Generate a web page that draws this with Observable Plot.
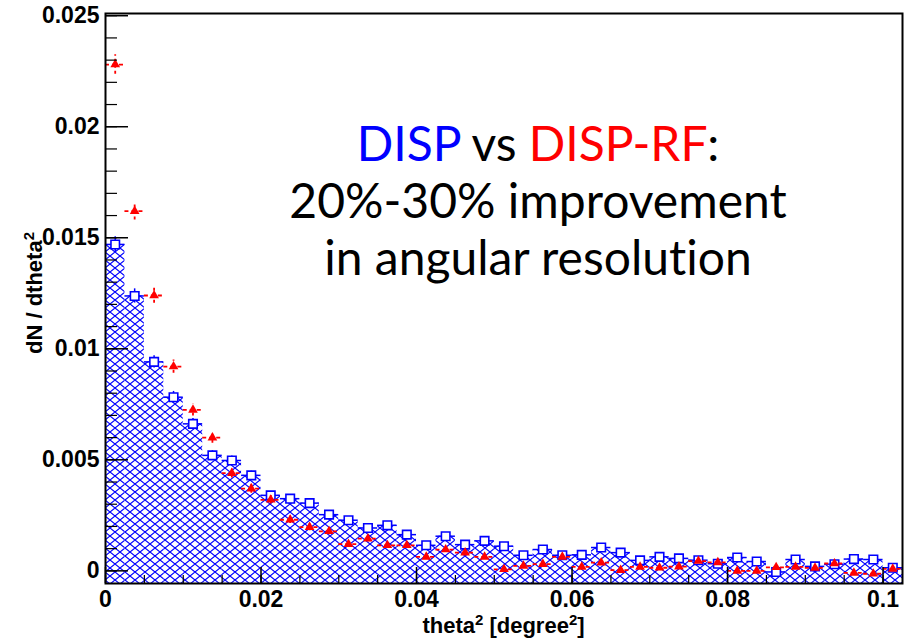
<!DOCTYPE html>
<html><head><meta charset="utf-8">
<script src="https://cdn.jsdelivr.net/npm/d3@7"></script>
<script src="https://cdn.jsdelivr.net/npm/@observablehq/plot@0.6"></script>
<style>body{margin:0;background:#fff}#chart{width:905px;height:641px}</style>
</head><body><div id="chart"></div>
<script>
// theta^2 histogram, 41 bins of 0.0025 deg^2
const binWidth = 0.0025;
// DISP (blue, hatched histogram + open squares)
const dispValues = [0.0147, 0.01238, 0.00941, 0.00782, 0.00662, 0.0052, 0.00497, 0.0043, 0.0034, 0.00325,
  0.00305, 0.00253, 0.00228, 0.00193, 0.00205, 0.00163, 0.00115, 0.00156, 0.00118, 0.00135,
  0.00111, 0.0007, 0.00096, 0.0007, 0.00072, 0.00105, 0.00082, 0.00047, 0.00063, 0.00056,
  0.00048, 0.00032, 0.0006, 0.00042, -0.00005, 0.00051, 0.0002, 0.0003, 0.00053, 0.00051, 0.00014];
const dispErrors = [0.00035, 0.00032, 0.00028, 0.00026, 0.00024, 0.00021, 0.0002, 0.00019, 0.00017, 0.00016,
  0.00016, 0.00014, 0.00014, 0.00013, 0.00013, 0.00012, 0.0001, 0.00011, 0.0001, 0.0001,
  0.0001, 0.00008, 0.00009, 0.00008, 0.00008, 0.00009, 0.00008, 0.00007, 0.00008, 0.00007,
  0.00007, 0.00006, 0.00007, 0.00006, 0.00005, 0.00007, 0.00005, 0.00006, 0.00007, 0.00007, 0.00005];
// DISP-RF (red triangles)
const rfValues = [0.0228, 0.0162, 0.0124, 0.0092, 0.00725, 0.006, 0.0044, 0.0037, 0.0032, 0.0023,
  0.00197, 0.00178, 0.0012, 0.00145, 0.00115, 0.00115, 0.00063, 0.00096, 0.00082, 0.00063,
  0.00007, 0.00022, 0.0003, 0.00063, 0.00018, 0.00037, 0.00003, 0.00018, 0.00014, 0.00019,
  0.00044, 0.00038, 0.0, 0.0, 0.00016, 0.00018, 0.00013, 0.00033, -0.00009, -0.00013, 0.00009];
const rfErrors = [0.00044, 0.0004, 0.00035, 0.0003, 0.00028, 0.00025, 0.00022, 0.0002, 0.00019, 0.00017,
  0.00016, 0.00015, 0.00013, 0.00014, 0.00012, 0.00012, 0.0001, 0.00011, 0.0001, 0.0001,
  0.00006, 0.00007, 0.00008, 0.0001, 0.00007, 0.00008, 0.00006, 0.00007, 0.00007, 0.00007,
  0.00008, 0.00008, 0.00005, 0.00005, 0.00006, 0.00006, 0.00006, 0.00007, 0.00005, 0.00005, 0.00006];

const xTicks = [0, 0.02, 0.04, 0.06, 0.08, 0.1];
const yTicks = [0, 0.005, 0.01, 0.015, 0.02, 0.025];
const xMinorTicks = d3.range(0, 0.1026, 0.005);
const yMinorTicks = d3.range(0, 0.0251, 0.001);
const xDomain = [0, 0.1025];
const yDomain = [-0.00057, 0.0251];

const rows = dispValues.map((b, i) => ({
  lo: i * binWidth, hi: (i + 1) * binWidth, mid: (i + 0.5) * binWidth,
  disp: b, dispErr: dispErrors[i], rf: rfValues[i], rfErr: rfErrors[i]
}));

const fmt = d => String(+(+d).toFixed(4));

const chart = Plot.plot({
  width: 905, height: 641,
  marginLeft: 105, marginRight: 3, marginTop: 13, marginBottom: 58,
  x: {domain: xDomain},
  y: {domain: yDomain},
  style: {fontFamily: "'Liberation Sans', Arial, sans-serif", fontWeight: "bold", fontSize: "23px", color: "black", background: "white"},
  marks: [
    Plot.rectY(rows, {x1: "lo", x2: "hi", y1: yDomain[0], y2: "disp", fill: "url(#hatch)"}),
    // DISP error bars + markers
    Plot.ruleY(rows, {y: "disp", x1: "lo", x2: "hi", stroke: "blue", strokeWidth: 1.5}),
    Plot.ruleX(rows, {x: "mid", y1: d => d.disp - d.dispErr, y2: d => d.disp + d.dispErr, stroke: "blue", strokeWidth: 1.5}),
    Plot.dot(rows, {x: "mid", y: "disp", symbol: "square", r: 4.8, stroke: "blue", fill: "white", strokeWidth: 1.6}),
    // DISP-RF error bars + markers
    Plot.ruleY(rows, {y: "rf", x1: "lo", x2: "hi", stroke: "red", strokeWidth: 1.8, strokeDasharray: "4,3"}),
    Plot.ruleX(rows, {x: "mid", y1: d => d.rf - d.rfErr, y2: d => d.rf + d.rfErr, stroke: "red", strokeWidth: 1.8, strokeDasharray: "3,3"}),
    Plot.dot(rows, {x: "mid", y: "rf", symbol: "triangle", r: 3.6, fill: "red"}),
    // axes
    Plot.axisY({ticks: yTicks, tickSize: 0, tickPadding: 6, tickFormat: fmt, label: null, fontSize: 23}),
    Plot.axisY({ticks: yTicks, text: null, tickSize: -23, strokeWidth: 1.5, label: null}),
    Plot.axisY({ticks: yMinorTicks, text: null, tickSize: -12, strokeWidth: 1.2, label: null}),
    Plot.axisX({ticks: xTicks, tickSize: 0, tickPadding: 7, tickFormat: fmt, label: null, fontSize: 23}),
    Plot.axisX({ticks: xTicks, text: null, tickSize: -16, strokeWidth: 1.5, label: null}),
    Plot.axisX({ticks: xMinorTicks, text: null, tickSize: -8, strokeWidth: 1.2, label: null}),
    Plot.frame({stroke: "black", strokeWidth: 2})
  ]
});

const svg = d3.select(chart);
svg.insert("defs", ":first-child").html(
  '<pattern id="hatch" patternUnits="userSpaceOnUse" width="10" height="8">' +
  '<path d="M0,0L10,8M0,8L10,0" stroke="#0000ff" stroke-width="1.15" fill="none"/></pattern>');

// axis titles
const xt = svg.append("text").attr("x", 503.5).attr("y", 633).attr("text-anchor", "middle")
  .attr("font-family", "'Liberation Sans', Arial, sans-serif").attr("font-weight", "bold").attr("font-size", 22);
xt.append("tspan").text("theta");
xt.append("tspan").attr("dy", -8).attr("font-size", 15).text("2");
xt.append("tspan").attr("dy", 8).text(" [degree");
xt.append("tspan").attr("dy", -8).attr("font-size", 15).text("2");
xt.append("tspan").attr("dy", 8).text("]");

const yt = svg.append("text").attr("transform", "translate(42,293) rotate(-90)").attr("text-anchor", "middle")
  .attr("font-family", "'Liberation Sans', Arial, sans-serif").attr("font-weight", "bold").attr("font-size", 22);
yt.append("tspan").text("dN / dtheta");
yt.append("tspan").attr("dy", -8).attr("font-size", 15).text("2");

// annotation
const ann = svg.append("g").attr("font-family", "Lato, 'Open Sans', sans-serif").attr("font-size", 48)
  .attr("font-weight", "normal").attr("text-anchor", "middle").attr("fill", "black")
  .style("font-variant-ligatures", "none");
const l1 = ann.append("text").attr("x", 538).attr("y", 161);
l1.append("tspan").attr("fill", "#0000ff").text("DISP");
l1.append("tspan").text(" vs ");
l1.append("tspan").attr("fill", "#ff0000").text("DISP-RF");
l1.append("tspan").text(":");
ann.append("text").attr("x", 538).attr("y", 218).text("20%-30% improvement");
ann.append("text").attr("x", 538).attr("y", 275).text("in angular resolution");

document.getElementById("chart").appendChild(chart);
</script>
</body></html>
